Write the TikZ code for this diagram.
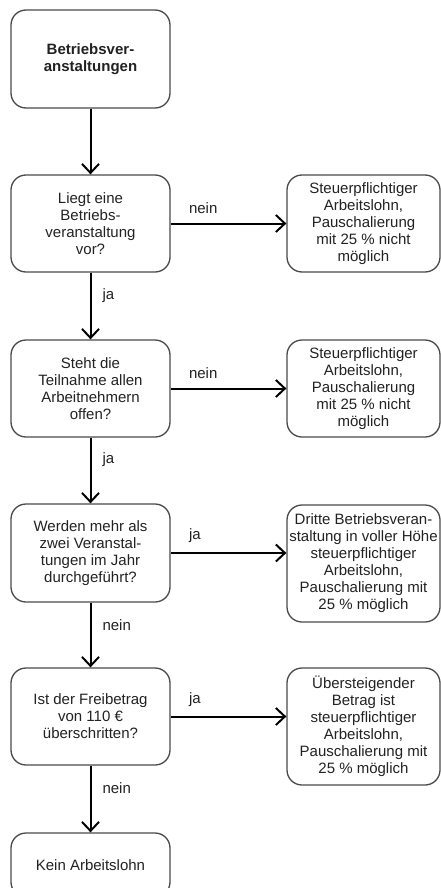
\documentclass[tikz,border=0pt]{standalone}
\usepackage{fontspec}
\setmainfont{Liberation Sans}
\usetikzlibrary{arrows.meta}
\definecolor{boxgray}{HTML}{4A4A4A}
\definecolor{textgray}{HTML}{222222}
\begin{document}
\begin{tikzpicture}[x=1pt,y=-1pt,
  box/.style={draw=boxgray, line width=1.3pt, rounded corners=15pt, align=center,
    text=textgray, font=\fontsize{15}{17}\selectfont, inner sep=0pt},
  lbox/.style={box, minimum width=159pt},
  rbox/.style={box, minimum width=153pt},
  conn/.style={line width=2pt, draw=black, -{Straight Barb[length=9pt,width=17pt,line width=2pt]}},
  lab/.style={font=\fontsize{15}{17}\selectfont, text=textgray, inner sep=0pt}]
\clip (0,0) rectangle (441,888);
\fill[white] (0,0) rectangle (441,888);

\node[lbox, minimum height=98pt, font=\bfseries\fontsize{15}{17}\selectfont] (b1) at (90.5,59) {Betriebsver-\\anstaltungen};
\node[lbox, minimum height=97pt] (b2) at (90.5,223.5) {Liegt eine\\Betriebs-\\veranstaltung\\vor?};
\node[lbox, minimum height=97pt] (b3) at (90.5,388.5) {Steht die\\Teilnahme allen\\Arbeitnehmern\\offen?};
\node[lbox, minimum height=98pt] (b4) at (90.5,553) {Werden mehr als\\zwei Veranstal-\\tungen im Jahr\\durchgeführt?};
\node[lbox, minimum height=97pt] (b5) at (90.5,716.5) {Ist der Freibetrag\\von 110 €\\überschritten?};
\node[lbox, minimum height=64pt] (b6) at (90.5,865) {Kein Arbeitslohn};

\node[rbox, minimum height=97pt] (r1) at (363.5,223.5) {Steuerpflichtiger\\Arbeitslohn,\\Pauschalierung\\mit 25 \% nicht\\möglich};
\node[rbox, minimum height=97pt] (r2) at (363.5,388.5) {Steuerpflichtiger\\Arbeitslohn,\\Pauschalierung\\mit 25 \% nicht\\möglich};
\node[rbox, minimum height=117pt] (r3) at (363.5,563.5) {Dritte Betriebsveran-\\staltung in voller Höhe\\steuerpflichtiger\\Arbeitslohn,\\Pauschalierung mit\\25 \% möglich};
\node[rbox, minimum height=117pt] (r4) at (363.5,726.5) {Übersteigender\\Betrag ist\\steuerpflichtiger\\Arbeitslohn,\\Pauschalierung mit\\25 \% möglich};

\draw[conn] (b1) -- (b2);
\draw[conn] (b2) -- node[lab, pos=0.34, anchor=west, xshift=11pt] (l1) {ja} (b3);
\draw[conn] (b3) -- node[lab, pos=0.34, anchor=west, xshift=11pt] (l2) {ja} (b4);
\draw[conn] (b4) -- node[lab, pos=0.34, anchor=west, xshift=11pt] (l3) {nein} (b5);
\draw[conn] (b5) -- node[lab, pos=0.34, anchor=west, xshift=11pt] (l4) {nein} (b6);

\draw[conn] (b2.east) -- node[lab, pos=0.15, anchor=south west, yshift=9pt] (l5) {nein} (b2.east -| r1.west);
\draw[conn] (b3.east) -- node[lab, pos=0.15, anchor=south west, yshift=9pt] (l6) {nein} (b3.east -| r2.west);
\draw[conn] (b4.east) -- node[lab, pos=0.15, anchor=south west, yshift=9pt] (l7) {ja} (b4.east -| r3.west);
\draw[conn] (b5.east) -- node[lab, pos=0.15, anchor=south west, yshift=9pt] (l8) {ja} (b5.east -| r4.west);
\end{tikzpicture}
\end{document}
